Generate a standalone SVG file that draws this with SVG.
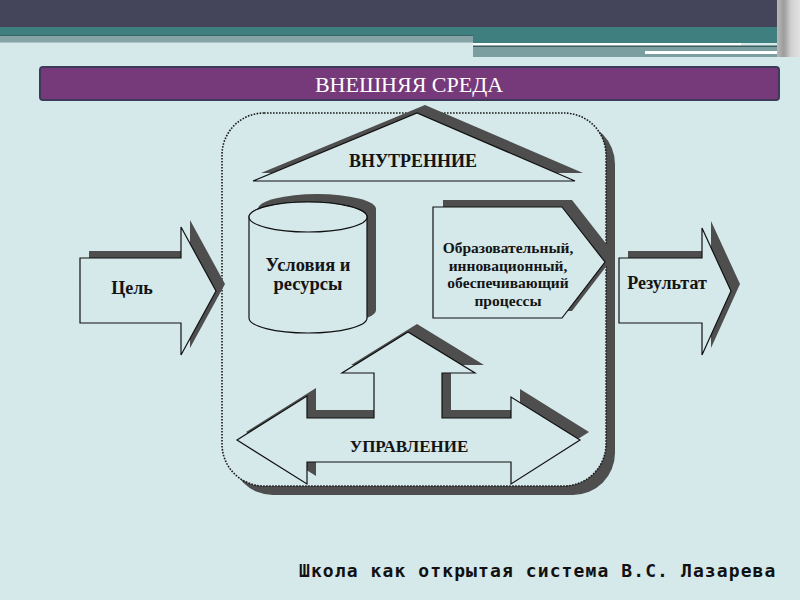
<svg xmlns="http://www.w3.org/2000/svg" width="800" height="600" viewBox="0 0 800 600">
  <defs>
    <style>
      .sh { fill: #4e4e4e; }
      .shape { fill: #d5e8ea; stroke: #111; stroke-width: 1.2; stroke-linejoin: miter; }
      .lbl { font-family: "Liberation Serif", "Times New Roman", serif; font-weight: bold; fill: #141414; text-anchor: middle; }
    </style>
    <linearGradient id="edge" x1="0" y1="0" x2="1" y2="0">
      <stop offset="0" stop-color="#b8b8b8"/>
      <stop offset="0.3" stop-color="#9c9c9c"/>
      <stop offset="0.6" stop-color="#cfcfcf"/>
      <stop offset="1" stop-color="#e2e2e2"/>
    </linearGradient>
  </defs>

  <!-- background -->
  <rect x="0" y="0" width="800" height="600" fill="#d5e8ea"/>

  <!-- header bands -->
  <g id="header">
    <rect x="0" y="0" width="800" height="27" fill="#44445a"/>
    <rect x="0" y="27" width="800" height="8" fill="#3f7f7f"/>
    <rect x="0" y="35" width="473" height="1.5" fill="#3d6466"/>
    <rect x="0" y="36.5" width="473" height="6" fill="#86a4a6"/>
    <rect x="473" y="35" width="305" height="8" fill="#3f7f7f"/>
    <rect x="473" y="43" width="268" height="2.5" fill="#ffffff"/>
    <rect x="473" y="45.5" width="305" height="1.5" fill="#3d5e60"/>
    <rect x="473" y="47" width="305" height="10" fill="#7b9ea0"/>
    <rect x="645" y="51" width="133" height="3" fill="#ffffff"/>
    <rect x="777" y="0" width="23" height="57" fill="url(#edge)"/>
  </g>

  <!-- external environment bar -->
  <g id="outer-env">
    <rect x="40" y="67" width="739" height="33" rx="3" fill="#763a7a" stroke="#3d3b5b" stroke-width="2"/>
    <text x="409" y="92" font-family="'Liberation Serif', 'Times New Roman', serif" font-size="22" fill="#ffffff" text-anchor="middle">ВНЕШНЯЯ СРЕДА</text>
  </g>

  <!-- school container -->
  <g id="container">
    <rect x="231" y="122" width="384" height="373" rx="42" class="sh"/>
    <rect x="222" y="113" width="384" height="373" rx="42" fill="#d5e8ea" stroke="#1a1a1a" stroke-width="1.6" stroke-dasharray="1.6 1.4"/>
  </g>

  <!-- roof: internal -->
  <g id="internal">
    <polygon class="sh" points="253,181 417,113 575,181" transform="translate(8,-8)"/>
    <polygon class="shape" points="253,181 417,113 575,181"/>
    <text class="lbl" x="413" y="167" font-size="18">ВНУТРЕННИЕ</text>
  </g>

  <!-- cylinder: conditions and resources -->
  <g id="resources">
    <g transform="translate(9,-8)" class="sh">
      <path d="M249,217 V318 A59,15 0 0 0 367,318 V217 A59,15 0 0 0 249,217 Z"/>
    </g>
    <path class="shape" d="M249,217 V318 A59,15 0 0 0 367,318 V217 A59,15 0 0 0 249,217 Z"/>
    <ellipse class="shape" cx="308" cy="217" rx="59" ry="15"/>
    <text class="lbl" x="308" y="271" font-size="18.5">Условия и</text>
    <text class="lbl" x="308" y="290" font-size="18.5">ресурсы</text>
  </g>

  <!-- pentagon: processes -->
  <g id="processes">
    <path class="sh" d="M433,207 H562 L605,262 L562,318 H433 Z" transform="translate(10,-7)"/>
    <path class="shape" d="M433,207 H562 L605,262 L562,318 H433 Z"/>
    <text class="lbl" x="508" y="253" font-size="15.5">Образовательный,</text>
    <text class="lbl" x="508" y="270.5" font-size="15.5">инновационный,</text>
    <text class="lbl" x="508" y="288" font-size="15.5">обеспечивающий</text>
    <text class="lbl" x="508" y="305.5" font-size="15.5">процессы</text>
  </g>

  <!-- management arrow -->
  <g id="management">
    <path class="sh" transform="translate(9,-8)" d="M237,440 L307,396 V418 H374 V373 H342 L408,332 L475,373 H442 V418 H511 V397 L580,440 L511,484 V462 H307 V484 Z"/>
    <path class="shape" d="M237,440 L307,396 V418 H374 V373 H342 L408,332 L475,373 H442 V418 H511 V397 L580,440 L511,484 V462 H307 V484 Z"/>
    <text class="lbl" x="409" y="452" font-size="17">УПРАВЛЕНИЕ</text>
  </g>

  <!-- goal arrow -->
  <g id="goal">
    <path class="sh" transform="translate(9,-7)" d="M80,258 H181 V227 L216,291 L181,355 V323 H80 Z"/>
    <path class="shape" d="M80,258 H181 V227 L216,291 L181,355 V323 H80 Z"/>
    <text class="lbl" x="132" y="294" font-size="18">Цель</text>
  </g>

  <!-- result arrow -->
  <g id="result">
    <path class="sh" transform="translate(9,-7)" d="M619,258 H702 V228 L731,291 L702,355 V323 H619 Z"/>
    <path class="shape" d="M619,258 H702 V228 L731,291 L702,355 V323 H619 Z"/>
    <text class="lbl" x="667" y="289" font-size="18">Результат</text>
  </g>

  <g id="connectors"/>

  <!-- caption -->
  <text x="299" y="577" font-family="'DejaVu Sans Mono', 'Liberation Mono', monospace" font-weight="bold" font-size="18" letter-spacing="1.1" fill="#111">Школа как открытая система В.С. Лазарева</text>
</svg>
